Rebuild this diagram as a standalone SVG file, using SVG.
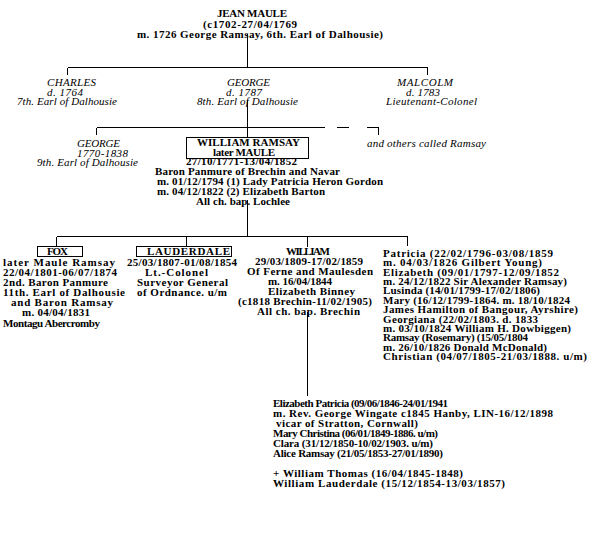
<svg xmlns="http://www.w3.org/2000/svg" width="592" height="550" viewBox="0 0 592 550">
<style>
text{font-family:"Liberation Serif","Times New Roman",serif;font-size:11px;fill:#000}
.b{font-weight:bold}
.i{font-style:italic}
.ln{stroke:#000;stroke-width:1;fill:none;shape-rendering:crispEdges}
</style>
<rect width="592" height="550" fill="#fff"/>
<g id="connectors" class="ln">
<path d="M247.5 34V67.5M67.5 67.5H427.5M67.5 67.5V75M427.5 67.5V75"/>
<path d="M247.5 100V137.5M96.5 127.5H325M96.5 127.5V135M337 127.5H349M367 127.5H378.5V135"/>
<path d="M247.5 200V236.5M56.5 236.5H407.5M56.5 236.5V246.5M186.5 236.5V246.5M307.5 236.5V246.5M407.5 236.5V246"/>
<path d="M307.5 312V396"/>
</g>
<g id="jean-maule" class="b">
<text x="217" y="17" textLength="70" lengthAdjust="spacing">JEAN MAULE</text>
<text x="203" y="27.5" textLength="94" lengthAdjust="spacing">(c1702-27/04/1769</text>
<text x="137" y="38" textLength="246" lengthAdjust="spacing">m. 1726 George Ramsay, 6th. Earl of Dalhousie)</text>
</g>
<g id="charles" class="i">
<text x="47" y="86" textLength="49" lengthAdjust="spacing">CHARLES</text>
<text x="47" y="95.5" textLength="36" lengthAdjust="spacing">d. 1764</text>
<text x="17" y="105" textLength="100" lengthAdjust="spacing">7th. Earl of Dalhousie</text>
</g>
<g id="george-8th" class="i">
<text x="227" y="86" textLength="43" lengthAdjust="spacing">GEORGE</text>
<text x="226" y="95.5" textLength="36" lengthAdjust="spacing">d. 1787</text>
<text x="197" y="105" textLength="101" lengthAdjust="spacing">8th. Earl of Dalhousie</text>
</g>
<g id="malcolm" class="i">
<text x="397" y="86" textLength="56" lengthAdjust="spacing">MALCOLM</text>
<text x="406" y="95.5" textLength="34" lengthAdjust="spacing">d. 1783</text>
<text x="386" y="105" textLength="91" lengthAdjust="spacing">Lieutenant-Colonel</text>
</g>
<g id="george-9th" class="i">
<text x="77" y="147" textLength="43" lengthAdjust="spacing">GEORGE</text>
<text x="77" y="156.5" textLength="51" lengthAdjust="spacing">1770-1838</text>
<text x="37" y="166" textLength="101" lengthAdjust="spacing">9th. Earl of Dalhousie</text>
</g>
<g id="others" class="i">
<text x="367" y="147" textLength="119" lengthAdjust="spacing">and others called Ramsay</text>
</g>
<g id="william-ramsay" class="b">
<rect class="ln" x="186.5" y="137.5" width="122" height="21"/>
<text x="197" y="146" textLength="103" lengthAdjust="spacing">WILLIAM RAMSAY</text>
<text x="213" y="155.5" textLength="62" lengthAdjust="spacing">later MAULE</text>
<text x="186" y="164.5" textLength="111" lengthAdjust="spacing">27/10/1771-13/04/1852</text>
<text x="155" y="174.5" textLength="185" lengthAdjust="spacing">Baron Panmure of Brechin and Navar</text>
<text x="157" y="184.5" textLength="226" lengthAdjust="spacing">m. 01/12/1794 (1) Lady Patricia Heron Gordon</text>
<text x="157" y="194.5" textLength="168" lengthAdjust="spacing">m. 04/12/1822 (2) Elizabeth Barton</text>
<text x="196" y="204.5" textLength="94" lengthAdjust="spacing">All ch. bap. Lochlee</text>
</g>
<g id="fox" class="b">
<rect class="ln" x="37.5" y="246.5" width="45" height="10"/>
<text x="47" y="255" textLength="21" lengthAdjust="spacing">FOX</text>
<text x="3" y="265.7" textLength="112" lengthAdjust="spacing">later Maule Ramsay</text>
<text x="3" y="275.7" textLength="114" lengthAdjust="spacing">22/04/1801-06/07/1874</text>
<text x="3" y="285.8" textLength="105" lengthAdjust="spacing">2nd. Baron Panmure</text>
<text x="3" y="296" textLength="122" lengthAdjust="spacing">11th. Earl of Dalhousie</text>
<text x="11" y="306.1" textLength="102" lengthAdjust="spacing">and Baron Ramsay</text>
<text x="22" y="316.3" textLength="68" lengthAdjust="spacing">m. 04/04/1831</text>
<text x="3" y="326.6" textLength="97" lengthAdjust="spacing">Montagu Abercromby</text>
</g>
<g id="lauderdale" class="b">
<rect class="ln" x="136.5" y="246.5" width="94.5" height="10"/>
<text x="147" y="255" textLength="83" lengthAdjust="spacing">LAUDERDALE</text>
<text x="127" y="265.7" textLength="110" lengthAdjust="spacing">25/03/1807-01/08/1854</text>
<text x="145" y="275.7" textLength="63" lengthAdjust="spacing">Lt.-Colonel</text>
<text x="137" y="285.8" textLength="91" lengthAdjust="spacing">Surveyor General</text>
<text x="137" y="296" textLength="90" lengthAdjust="spacing">of Ordnance. u/m</text>
</g>
<g id="william" class="b">
<text x="286" y="255" textLength="44" lengthAdjust="spacing">WILLIAM</text>
<text x="255" y="265" textLength="108" lengthAdjust="spacing">29/03/1809-17/02/1859</text>
<text x="247" y="275" textLength="126" lengthAdjust="spacing">Of Ferne and Maulesden</text>
<text x="268" y="285" textLength="64" lengthAdjust="spacing">m. 16/04/1844</text>
<text x="268" y="295" textLength="87" lengthAdjust="spacing">Elizabeth Binney</text>
<text x="238" y="305" textLength="134" lengthAdjust="spacing">(c1818 Brechin-11/02/1905)</text>
<text x="257" y="315" textLength="103" lengthAdjust="spacing">All ch. bap. Brechin</text>
</g>
<g id="daughters" class="b">
<text x="383" y="256.7" textLength="170" lengthAdjust="spacing">Patricia (22/02/1796-03/08/1859</text>
<text x="383" y="266.1" textLength="159" lengthAdjust="spacing">m. 04/03/1826 Gilbert Young)</text>
<text x="383" y="275.5" textLength="176" lengthAdjust="spacing">Elizabeth (09/01/1797-12/09/1852</text>
<text x="383" y="284.9" textLength="184" lengthAdjust="spacing">m. 24/12/1822 Sir Alexander Ramsay)</text>
<text x="383" y="294.3" textLength="157" lengthAdjust="spacing">Lusinda (14/01/1799-17/02/1806)</text>
<text x="383" y="303.7" textLength="187" lengthAdjust="spacing">Mary (16/12/1799-1864. m. 18/10/1824</text>
<text x="383" y="313.1" textLength="195" lengthAdjust="spacing">James Hamilton of Bangour, Ayrshire)</text>
<text x="383" y="322.5" textLength="155" lengthAdjust="spacing">Georgiana (22/02/1803. d. 1833</text>
<text x="383" y="331.9" textLength="188" lengthAdjust="spacing">m. 03/10/1824 William H. Dowbiggen)</text>
<text x="383" y="341.3" textLength="145" lengthAdjust="spacing">Ramsay (Rosemary) (15/05/1804</text>
<text x="383" y="350.7" textLength="164" lengthAdjust="spacing">m. 26/10/1826 Donald McDonald)</text>
<text x="383" y="360.1" textLength="204" lengthAdjust="spacing">Christian (04/07/1805-21/03/1888. u/m)</text>
</g>
<g id="grandchildren" class="b">
<text x="273" y="406.7" textLength="175" lengthAdjust="spacing">Elizabeth Patricia (09/06/1846-24/01/1941</text>
<text x="273" y="416.7" textLength="280" lengthAdjust="spacing">m. Rev. George Wingate c1845 Hanby, LIN-16/12/1898</text>
<text x="276" y="426.7" textLength="142" lengthAdjust="spacing">vicar of Stratton, Cornwall)</text>
<text x="273" y="436.7" textLength="165" lengthAdjust="spacing">Mary Christina (06/01/1849-1886. u/m)</text>
<text x="273" y="446.7" textLength="160" lengthAdjust="spacing">Clara (31/12/1850-10/02/1903. u/m)</text>
<text x="273" y="456.7" textLength="170" lengthAdjust="spacing">Alice Ramsay (21/05/1853-27/01/1890)</text>
<text x="273" y="476.7" textLength="190" lengthAdjust="spacing">+ William Thomas (16/04/1845-1848)</text>
<text x="273" y="486.7" textLength="232" lengthAdjust="spacing">William Lauderdale (15/12/1854-13/03/1857)</text>
</g>
</svg>
